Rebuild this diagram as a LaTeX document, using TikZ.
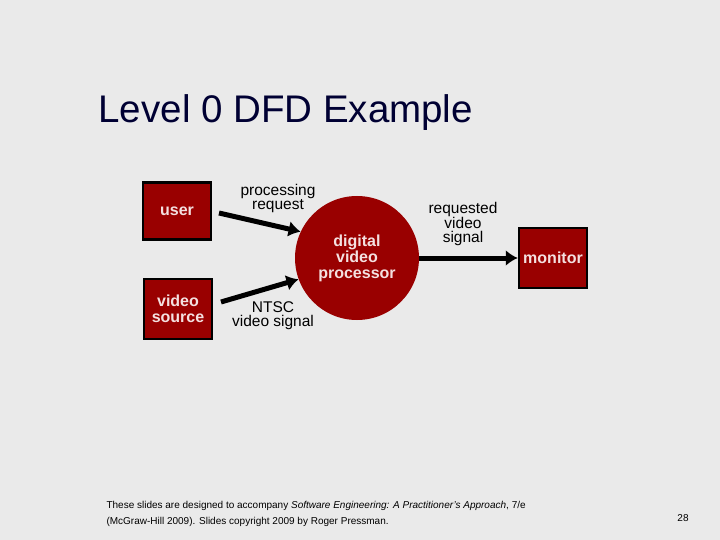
\documentclass[tikz,border=0pt]{standalone}
\usepackage{fontspec}
\setmainfont{Liberation Sans}
\usetikzlibrary{arrows.meta}
\definecolor{bg}{HTML}{EAEAEA}
\definecolor{dred}{HTML}{990000}
\definecolor{ltxt}{HTML}{F4E0E0}
\begin{document}
\begin{tikzpicture}[x=1pt,y=-1pt,
  ent/.style={draw=black,line width=2.5pt,fill=dred,text=ltxt,font=\bfseries\fontsize{16}{16}\selectfont,align=center,inner sep=0pt},
  proc/.style={circle,fill=dred,text=ltxt,font=\bfseries\fontsize{16}{16}\selectfont,align=center,minimum size=124pt,inner sep=0pt},
  lab/.style={font=\fontsize{15.5}{14}\selectfont,align=center},
  flow/.style={line width=5pt,-{Latex[length=12pt,width=16pt]}}]
\fill[bg] (0,0) rectangle (720,540);
\node[anchor=west,font=\fontsize{38.5}{42}\selectfont,text=black!80!blue] (title) at (95,113) {Level 0 DFD Example};
\node[ent,minimum width=68pt,minimum height=57pt] (user) at (177,211) {user};
\node[ent,minimum width=68pt,minimum height=60pt] (src) at (178,309) {video\\source};
\node[ent,minimum width=68pt,minimum height=60pt] (mon) at (553,258) {monitor};
\node[proc] (dvp) at (357,258) {digital\\video\\processor};
\coordinate (ua) at (219,213);
\coordinate (sa) at (221,302);
\draw[flow] (ua) -- (dvp.155);
\draw[flow] (sa) -- (dvp.200);
\draw[flow] (dvp.east) -- (mon.west);
\node[lab] (l1) at (278,198) {processing\\request};
\node[lab] (l2) at (273,316) {NTSC\\video signal};
\node[lab] (l3) at (463,224) {requested\\video\\signal};
\node[anchor=north west,font=\fontsize{10}{16}\selectfont,align=left] (foot) at (103,498) {These slides are designed to accompany \textit{Software Engineering: A Practitioner's Approach}, 7/e\\(McGraw-Hill 2009). Slides copyright 2009 by Roger Pressman.};
\node[font=\fontsize{10}{12}\selectfont] (pg) at (683,518) {28};
\end{tikzpicture}
\end{document}
